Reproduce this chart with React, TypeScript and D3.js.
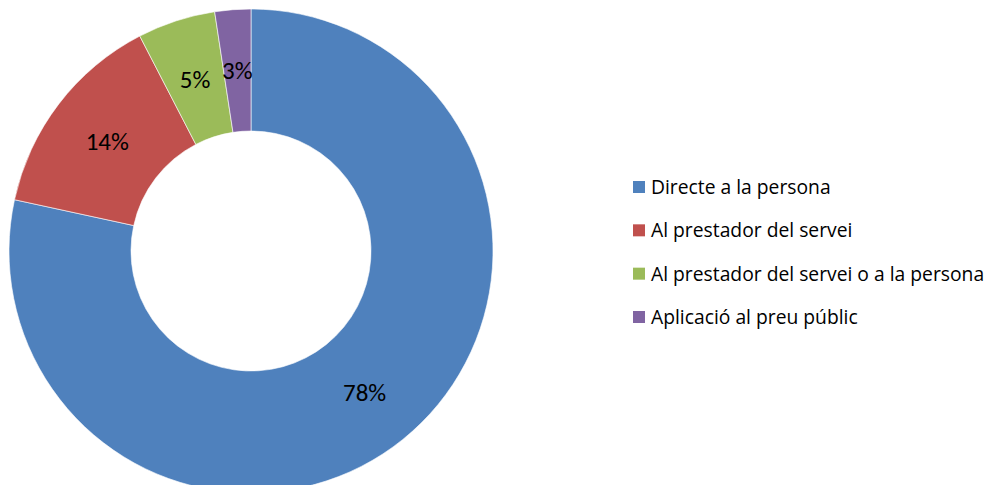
import React, { useEffect, useRef } from "react";
import * as d3 from "d3";

// categories, values (share of total), printed labels, colours
const categories = [
  "Directe a la persona",
  "Al prestador del servei",
  "Al prestador del servei o a la persona",
  "Aplicació al preu públic",
];
const values = [78.4, 14.0, 5.2, 2.4];
const pctLabels = ["78%", "14%", "5%", "3%"];
const colors = ["#4F81BD", "#C0504D", "#9BBB59", "#8064A2"];

const W = 996;
const H = 493;

export default function App() {
  const svgRef = useRef<SVGSVGElement>(null);

  useEffect(() => {
    const svg = d3.select(svgRef.current);
    svg.selectAll("*").remove();

    const font = "Carlito, 'Open Sans', 'Liberation Sans', sans-serif";
    const legendFont = "'Open Sans', sans-serif";
    const cx = 251;
    const cy = 251;
    const outerR = 242;
    const innerR = 120;

    const pie = d3
      .pie<number>()
      .sort(null)
      .value((d) => d);
    const arcs = pie(values);
    const arc = d3.arc<d3.PieArcDatum<number>>().innerRadius(innerR).outerRadius(outerR);

    const g = svg.append("g").attr("transform", `translate(${cx},${cy})`);

    g.selectAll("path")
      .data(arcs)
      .enter()
      .append("path")
      .attr("d", arc)
      .attr("fill", (d, i) => colors[i])
      .attr("stroke", "#fff")
      .attr("stroke-width", 0.6);

    g.selectAll("text")
      .data(arcs)
      .enter()
      .append("text")
      .attr("transform", (d) => `translate(${arc.centroid(d)})`)
      .attr("text-anchor", "middle")
      .attr("dy", "0.35em")
      .attr("font-family", font)
      .attr("font-size", 25)
      .attr("fill", "#000")
      .text((d, i) => pctLabels[i]);

    // Leyenda
    const legendY = d3
      .scalePoint<string>()
      .domain(categories)
      .range([187, 317]);

    const legend = svg.append("g");
    categories.forEach((c, i) => {
      const y = legendY(c)!;
      legend
        .append("rect")
        .attr("x", 633)
        .attr("y", y - 6)
        .attr("width", 12)
        .attr("height", 12)
        .attr("fill", colors[i]);
      legend
        .append("text")
        .attr("x", 651)
        .attr("y", y)
        .attr("dy", "0.36em")
        .attr("font-family", legendFont)
        .attr("font-size", 19.3)
        .attr("fill", "#000")
        .text(c);
    });
  }, []);

  return (
    <div style={{ margin: -8, width: W, height: H, background: "#fff" }}>
      <svg ref={svgRef} width={W} height={H} style={{ display: "block" }} />
    </div>
  );
}
